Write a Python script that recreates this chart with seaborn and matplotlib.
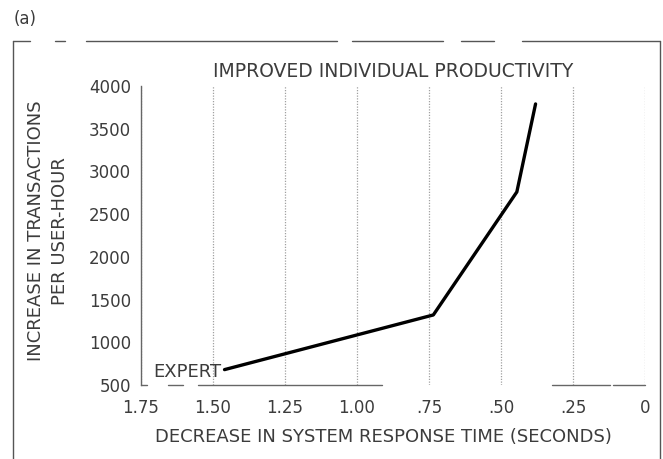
import matplotlib
matplotlib.use("Agg")
import matplotlib.pyplot as plt
import seaborn as sns
import pandas as pd
from matplotlib.lines import Line2D

# Curve for the expert user: response-time decrease (s) vs. added transactions per user-hour
response_time_decrease = [1.46, 0.735, 0.445, 0.38]
transactions_increase = [680, 1320, 2760, 3790]

x_ticks = [1.75, 1.50, 1.25, 1.00, 0.75, 0.50, 0.25, 0.0]
x_tick_labels = ["1.75", "1.50", "1.25", "1.00", ".75", ".50", ".25", "0"]
y_ticks = [500, 1000, 1500, 2000, 2500, 3000, 3500, 4000]
y_tick_labels = ["500", "1000", "1500", "2000", "2500", "3000", "3500", "4000"]

title_text = "IMPROVED INDIVIDUAL PRODUCTIVITY"
x_label = "DECREASE IN SYSTEM RESPONSE TIME (SECONDS)"
y_label = "INCREASE IN TRANSACTIONS\nPER USER-HOUR"
curve_label = "EXPERT"
panel_label = "(a)"

sns.set_theme(style="white")
plt.rcParams["font.family"] = ["DejaVu Sans"]

TEXT = "#3c3c3c"
GRID = "#a0a0a0"

W, H = 663, 459
fig = plt.figure(figsize=(W / 100, H / 100), dpi=100)
ax = fig.add_axes([141 / W, 1 - 385 / H, 504 / W, 299 / H])

df = pd.DataFrame({"decrease": response_time_decrease,
                   "increase": transactions_increase})
sns.lineplot(data=df, x="decrease", y="increase", sort=False, ax=ax,
             color="black", linewidth=2.4)

ax.set_xlim(1.75, 0.0)
ax.set_ylim(500, 4000)
ax.set_xticks(x_ticks)
ax.set_xticklabels(x_tick_labels)
ax.set_yticks(y_ticks)
ax.set_yticklabels(y_tick_labels)
ax.tick_params(axis="x", length=0, pad=10, labelsize=12, labelcolor=TEXT)
ax.tick_params(axis="y", length=0, pad=7, labelsize=12, labelcolor=TEXT)

# dotted vertical grid
ax.grid(axis="x", linestyle=(0, (1, 1.2)), color=GRID, linewidth=0.9)
ax.grid(axis="y", visible=False)

for side in ("top", "right", "bottom"):
    ax.spines[side].set_visible(False)
ax.spines["left"].set_color("#666666")
ax.spines["left"].set_linewidth(1.0)

# broken baseline along the bottom of the plot
for a, b in [(0.0, 0.012), (0.054, 0.083), (0.113, 0.478), (0.815, 0.931), (0.937, 1.0)]:
    ax.plot([a, b], [0, 0], transform=ax.transAxes, color="#666666",
            linewidth=1.0, clip_on=False)

ax.text(0.5, 1.05, title_text, transform=ax.transAxes, ha="center",
        va="center", fontsize=13.5, color=TEXT)
ax.set_xlabel(x_label, fontsize=13, color=TEXT)
ax.xaxis.set_label_coords(0.482, -0.145)
ax.set_ylabel(y_label, fontsize=13, color=TEXT, linespacing=1.45)
ax.yaxis.set_label_coords(-0.142, 0.515)

ax.annotate(curve_label, xy=(response_time_decrease[0], transactions_increase[0]),
            xytext=(-2, -2), textcoords="offset points",
            ha="right", va="center", fontsize=13, color=TEXT)

# outer panel frame with gaps in the top rule
frame_kw = dict(transform=fig.transFigure, color="#555555", linewidth=1.0)
top_y = 1 - 41 / H
for a, b in [(13, 30), (55, 65), (86, 337), (352, 443), (461, 494), (522, 660)]:
    fig.add_artist(Line2D([a / W, b / W], [top_y, top_y], **frame_kw))
fig.add_artist(Line2D([13 / W, 13 / W], [top_y, 0], **frame_kw))
fig.add_artist(Line2D([660 / W, 660 / W], [top_y, 0], **frame_kw))

fig.text(25 / W, 1 - 19 / H, panel_label, ha="center", va="center",
         fontsize=12, color=TEXT)

fig.savefig("out.png", dpi=100)
